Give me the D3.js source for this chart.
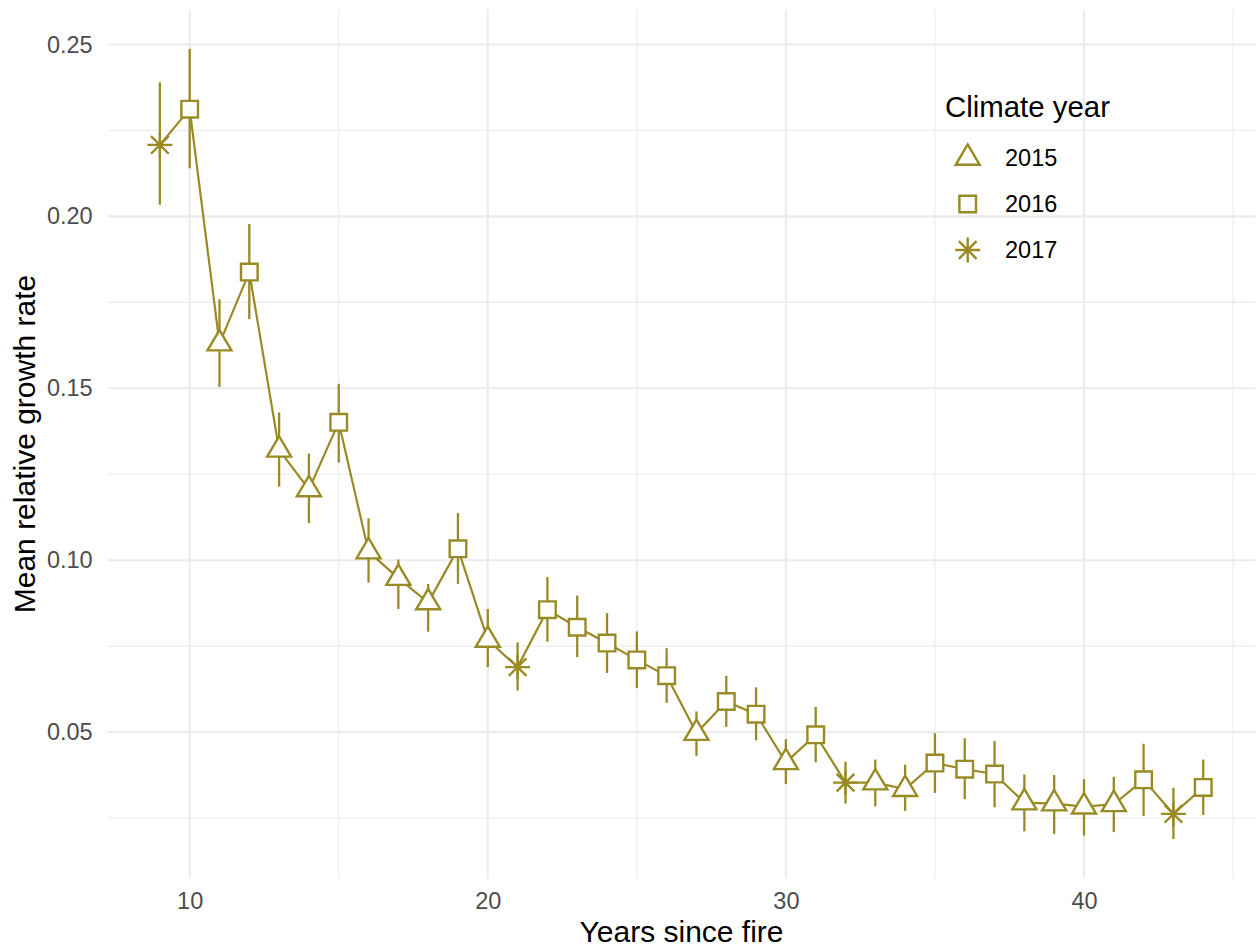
<!DOCTYPE html>
<html>
<head>
<meta charset="utf-8">
<script src="https://cdn.jsdelivr.net/npm/d3@7"></script>
<style>
  html, body { margin: 0; padding: 0; background: #ffffff; }
  svg { display: block; }
  text { font-family: "Liberation Sans", Arial, sans-serif; }
</style>
</head>
<body>
<svg id="chart" width="1257" height="951"></svg>
<script>
// Years since fire
const years = [9, 10, 11, 12, 13, 14, 15, 16, 17, 18, 19, 20, 21, 22, 23, 24, 25, 26,
               27, 28, 29, 30, 31, 32, 33, 34, 35, 36, 37, 38, 39, 40, 41, 42, 43, 44];
// Climate year used for each estimate
const climateYear = ["2017", "2016", "2015", "2016", "2015", "2015", "2016", "2015", "2015",
                     "2015", "2016", "2015", "2017", "2016", "2016", "2016", "2016", "2016",
                     "2015", "2016", "2016", "2015", "2016", "2017", "2015", "2015", "2016",
                     "2016", "2016", "2015", "2015", "2015", "2015", "2016", "2017", "2016"];
// Mean relative growth rate and its interval
const meanRate = [0.2208, 0.2312, 0.1630, 0.1838, 0.1321, 0.1206, 0.1401, 0.1025, 0.0948,
                  0.0877, 0.1033, 0.0768, 0.0689, 0.0856, 0.0805, 0.0759, 0.0710, 0.0664,
                  0.0497, 0.0589, 0.0552, 0.0412, 0.0492, 0.0353, 0.0353, 0.0334, 0.0410,
                  0.0392, 0.0378, 0.0295, 0.0292, 0.0283, 0.0290, 0.0361, 0.0262, 0.0339];
const lowerRate = [0.2034, 0.2140, 0.1504, 0.1701, 0.1214, 0.1108, 0.1284, 0.0935, 0.0858,
                   0.0792, 0.0931, 0.0689, 0.0621, 0.0763, 0.0718, 0.0672, 0.0628, 0.0585,
                   0.0431, 0.0515, 0.0476, 0.0349, 0.0412, 0.0292, 0.0284, 0.0271, 0.0323,
                   0.0305, 0.0281, 0.0211, 0.0204, 0.0199, 0.0209, 0.0256, 0.0189, 0.0259];
const upperRate = [0.2390, 0.2487, 0.1759, 0.1978, 0.1430, 0.1310, 0.1513, 0.1122, 0.1002,
                   0.0931, 0.1137, 0.0858, 0.0761, 0.0951, 0.0897, 0.0846, 0.0793, 0.0744,
                   0.0560, 0.0664, 0.0630, 0.0479, 0.0573, 0.0414, 0.0420, 0.0405, 0.0497,
                   0.0482, 0.0474, 0.0377, 0.0375, 0.0363, 0.0370, 0.0466, 0.0338, 0.0420];

const climateLevels = ["2015", "2016", "2017"];
const xTicks = [10, 20, 30, 40];
const xMinor = [15, 25, 35, 45];
const yTicks = [0.05, 0.10, 0.15, 0.20, 0.25];
const yMinor = [0.025, 0.075, 0.125, 0.175, 0.225];

const rows = years.map((y, i) => ({
  year: y, climate: climateYear[i], mean: meanRate[i], lo: lowerRate[i], hi: upperRate[i]
}));

const INK = "#9A8A24";
const GRID = "#EBEBEB";
const panel = { left: 107.7, right: 1255.4, top: 9.5, bottom: 878.5 };

// Continuous scales with 5% padding on each side
function padded(lo, hi) { const d = (hi - lo) * 0.05; return [lo - d, hi + d]; }
const x = d3.scaleLinear().domain(padded(d3.min(years), d3.max(years)))
  .range([panel.left, panel.right]);
const y = d3.scaleLinear().domain(padded(d3.min(lowerRate), d3.max(upperRate)))
  .range([panel.bottom, panel.top]);

const svg = d3.select("#chart");

// Grid lines
const grid = svg.append("g");
grid.selectAll(".ymin").data(yMinor).join("line")
  .attr("x1", panel.left).attr("x2", panel.right)
  .attr("y1", d => y(d)).attr("y2", d => y(d))
  .attr("stroke", GRID).attr("stroke-width", 1.1);
grid.selectAll(".xmin").data(xMinor.filter(v => x(v) <= panel.right)).join("line")
  .attr("y1", panel.top).attr("y2", panel.bottom)
  .attr("x1", d => x(d)).attr("x2", d => x(d))
  .attr("stroke", GRID).attr("stroke-width", 1.1);
grid.selectAll(".ymaj").data(yTicks).join("line")
  .attr("x1", panel.left).attr("x2", panel.right)
  .attr("y1", d => y(d)).attr("y2", d => y(d))
  .attr("stroke", GRID).attr("stroke-width", 2.1);
grid.selectAll(".xmaj").data(xTicks).join("line")
  .attr("y1", panel.top).attr("y2", panel.bottom)
  .attr("x1", d => x(d)).attr("x2", d => x(d))
  .attr("stroke", GRID).attr("stroke-width", 2.1);

// Axes (labels only, no domain or ticks)
const xAxis = svg.append("g").attr("transform", `translate(0,${panel.bottom})`)
  .call(d3.axisBottom(x).tickValues(xTicks).tickSize(0).tickPadding(14).tickFormat(d3.format("d")));
const yAxis = svg.append("g").attr("transform", `translate(${panel.left},0)`)
  .call(d3.axisLeft(y).tickValues(yTicks).tickSize(0).tickPadding(15).tickFormat(d3.format(".2f")));
[xAxis, yAxis].forEach(g => {
  g.select(".domain").remove();
  g.selectAll("text").attr("fill", "#4D4D4D").attr("font-size", 23.5)
    .attr("font-family", "'Liberation Sans', Arial, sans-serif");
});

// Axis titles
svg.append("text").attr("x", (panel.left + panel.right) / 2).attr("y", 942)
  .attr("text-anchor", "middle").attr("font-size", 30).attr("fill", "#000")
  .text("Years since fire");
svg.append("text")
  .attr("transform", `translate(35,${(panel.top + panel.bottom) / 2}) rotate(-90)`)
  .attr("text-anchor", "middle").attr("font-size", 30).attr("fill", "#000")
  .text("Mean relative growth rate");

// Marker shapes keyed by climate year
function markerPath(kind) {
  const p = d3.path();
  if (kind === "2015") {           // open triangle
    const hw = 12, up = 13.6, down = 6.8;
    p.moveTo(0, -up); p.lineTo(hw, down); p.lineTo(-hw, down); p.closePath();
  } else if (kind === "2016") {    // open square
    const h = 8.3;
    p.rect(-h, -h, 2 * h, 2 * h);
  } else {                         // asterisk
    const r = 12.5, q = r / Math.SQRT2;
    p.moveTo(-r, 0); p.lineTo(r, 0);
    p.moveTo(0, -r); p.lineTo(0, r);
    p.moveTo(-q, -q); p.lineTo(q, q);
    p.moveTo(-q, q); p.lineTo(q, -q);
  }
  return p.toString();
}

const plot = svg.append("g");

// Connecting line
plot.append("path").datum(rows)
  .attr("d", d3.line().x(d => x(d.year)).y(d => y(d.mean)))
  .attr("fill", "none").attr("stroke", INK).attr("stroke-width", 2.2);

// Interval bars
plot.selectAll(".bar").data(rows).join("line")
  .attr("x1", d => x(d.year)).attr("x2", d => x(d.year))
  .attr("y1", d => y(d.lo)).attr("y2", d => y(d.hi))
  .attr("stroke", INK).attr("stroke-width", 2.3);

// Point markers
plot.selectAll(".pt").data(rows).join("path")
  .attr("transform", d => `translate(${x(d.year)},${y(d.mean)})`)
  .attr("d", d => markerPath(d.climate))
  .attr("fill", d => d.climate === "2017" ? "none" : "#ffffff")
  .attr("stroke", INK).attr("stroke-width", 2.4).attr("stroke-linejoin", "miter");

// Legend
const legend = svg.append("g");
legend.append("text").attr("x", 945).attr("y", 117).attr("font-size", 29.4).attr("fill", "#000")
  .text("Climate year");
const keyY = d3.scalePoint().domain(climateLevels).range([158, 250]);
const keys = legend.selectAll(".key").data(climateLevels).join("g")
  .attr("transform", d => `translate(0,${keyY(d)})`);
keys.append("path").attr("transform", "translate(967.7,0)")
  .attr("d", d => markerPath(d))
  .attr("fill", d => d === "2017" ? "none" : "#ffffff")
  .attr("stroke", INK).attr("stroke-width", 2.4);
keys.append("text").attr("x", 1005).attr("dy", "0.36em").attr("font-size", 23.5).attr("fill", "#000")
  .text(d => d);
</script>
</body>
</html>
